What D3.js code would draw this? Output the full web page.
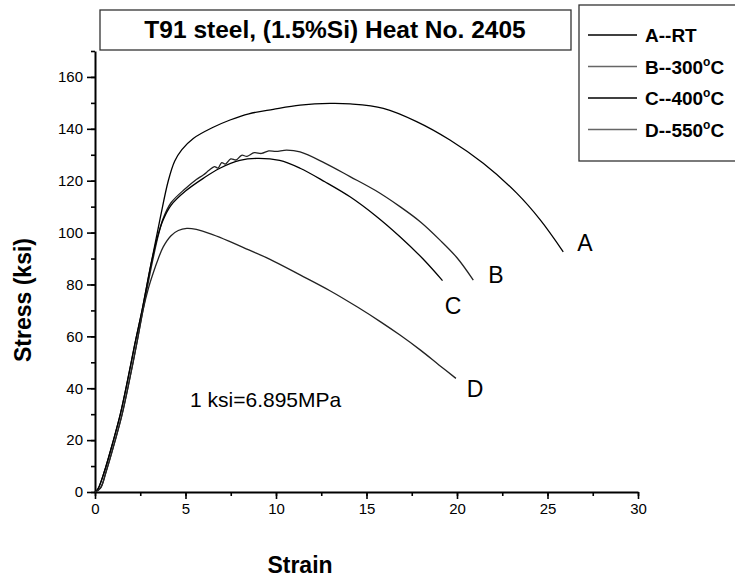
<!DOCTYPE html>
<html>
<head>
<title>T91 steel stress-strain</title>
<script src="https://cdnjs.cloudflare.com/ajax/libs/d3/7.8.5/d3.min.js"></script>
<style>
  body { margin: 0; background: #fff; }
  text { font-family: "Liberation Sans", Arial, sans-serif; fill: #000; }
</style>
</head>
<body>
<svg id="chart" width="735" height="582"></svg>
<script>
// strain (%) , stress (ksi)
var curveA = [[0,0],[0.15,1],[0.5,7.5],[1.0,19.5],[1.4,30],[1.8,43],[2.2,57],[2.6,70],[3.1,88],[3.6,105.5],[4.05,120],
  [4.4,127.5],[4.8,132],[5.43,136.3],[6.5,140.5],[7.46,143.4],[8.5,145.8],[9.85,147.5],[11.33,149.1],[12.98,149.8],
  [14.1,149.6],[15.93,147.9],[17.77,142.8],[19.61,135.7],[21.45,126.7],[23.3,115.2],[24.6,104.9],[25.87,92.6]];
var curveB = [[0,0],[0.3,1.5],[0.6,7.5],[1.1,19.5],[1.5,30],[1.9,43],[2.3,57],[2.65,70],[3.15,88],[3.5,99],[3.77,105.5],
  [4.2,111.5],[5.0,117],[5.6,120.5],[6.0,122.3],[6.3,124],[6.6,125.4],[6.8,124.9],[7.0,127],[7.2,126.4],[7.5,128.4],
  [7.8,128],[8.1,129.8],[8.4,129.4],[8.8,130.8],[9.2,130.5],[9.6,131.5],[10.0,131.3],[10.59,131.8],[11.33,131.1],
  [12.7,126.8],[14.09,121.6],[15.5,116.2],[16.85,110],[18,104],[19.06,97.1],[20.0,90.3],[20.9,81.7]];
var curveC = [[0,0],[0.15,1],[0.5,7.5],[1.0,19.5],[1.4,30],[1.8,43],[2.2,57],[2.6,70],[3.1,88],[3.5,99.5],[3.77,105],
  [4.2,110.5],[5.0,116],[6.0,121],[6.9,124.8],[8.0,127.8],[8.93,128.6],[10.2,127.8],[11.33,124.8],[12.7,119.6],
  [14.09,113.8],[15.5,106.5],[16.85,98.4],[18.1,90],[19.2,81.5]];
var curveD = [[0,0],[0.3,1.5],[0.6,7.5],[1.1,19.5],[1.5,30],[1.9,43],[2.3,57],[2.65,70],[2.95,78.5],[3.22,84.5],
  [3.5,90],[3.77,94.5],[4.2,98.8],[4.6,100.8],[5.07,101.6],[5.6,101.2],[6.5,99.2],[7.46,96.5],[8.5,93.3],[9.67,89.7],
  [11.33,83.7],[12.98,77.6],[14.5,71.3],[15.8,65.5],[16.85,60.5],[18,54.6],[19,49],[19.94,43.8]];

var seriesNames = ["A--RT", "B--300", "C--400", "D--550"];
var seriesUnits = ["", "oC", "oC", "oC"];
var seriesColors = ["#000", "#666", "#000", "#666"];
var curveLetters = ["A", "B", "C", "D"];
var letterPos = [[27.07,96],[22.15,83.7],[19.78,71.7],[21.0,39.7]];

var xTicks = [0,5,10,15,20,25,30];
var yTicks = [0,20,40,60,80,100,120,140,160];
var titleText = "T91 steel, (1.5%Si) Heat No. 2405";
var noteText = "1 ksi=6.895MPa";
var notePos = [5.25, 32.8];

var svg = d3.select("#chart");
var x = d3.scaleLinear().domain([0,30]).range([95,638]);
var y = d3.scaleLinear().domain([0,170]).range([492,51]);

// axes (minor ticks first, without their own domain line)
var xMinor = d3.axisBottom(x).tickValues(d3.range(0,30.1,2.5)).tickSize(4).tickFormat("");
var yMinor = d3.axisLeft(y).tickValues(d3.range(0,170.1,10)).tickSize(4).tickFormat("");
svg.append("g").attr("transform","translate(0,492)").call(xMinor).select(".domain").remove();
svg.append("g").attr("transform","translate(95,0)").call(yMinor).select(".domain").remove();

var xAxis = d3.axisBottom(x).tickValues(xTicks).tickSize(7).tickSizeOuter(0).tickPadding(4).tickFormat(d3.format("d"));
var yAxis = d3.axisLeft(y).tickValues(yTicks).tickSize(8).tickSizeOuter(0).tickPadding(4).tickFormat(d3.format("d"));
svg.append("g").attr("transform","translate(0,492)").call(xAxis);
svg.append("g").attr("transform","translate(95,0)").call(yAxis);

svg.selectAll(".domain").attr("stroke","#000").attr("stroke-width",2);
svg.selectAll(".tick line").attr("stroke","#000").attr("stroke-width",1.6);
svg.selectAll(".tick text").style("font-size","15px").attr("fill","#000");

// curves
var line = d3.line().x(function(d){ return x(d[0]); }).y(function(d){ return y(d[1]); })
  .curve(d3.curveCatmullRom.alpha(0.5));
[curveA, curveB, curveC, curveD].forEach(function(c, i){
  svg.append("path").attr("d", line(c)).attr("fill","none")
    .attr("stroke", i % 2 ? "#222" : "#000").attr("stroke-width", 1.3);
});

curveLetters.forEach(function(l, i){
  svg.append("text").attr("x", x(letterPos[i][0])).attr("y", y(letterPos[i][1]) + 8)
    .attr("text-anchor","middle").style("font-size","23px").text(l);
});

svg.append("text").attr("x", x(notePos[0])).attr("y", y(notePos[1]))
  .style("font-size","21px").text(noteText);

// axis titles
svg.append("text").attr("x",300).attr("y",573).attr("text-anchor","middle")
  .style("font-size","23px").style("font-weight","bold").text("Strain");
svg.append("text").attr("transform","translate(31,300) rotate(-90)").attr("text-anchor","middle")
  .style("font-size","23px").style("font-weight","bold").text("Stress (ksi)");

// title box
svg.append("rect").attr("x",100).attr("y",10).attr("width",471).attr("height",40)
  .attr("fill","none").attr("stroke","#333").attr("stroke-width",1.3);
svg.append("text").attr("x",335).attr("y",38).attr("text-anchor","middle")
  .style("font-size","24.5px").style("font-weight","bold").text(titleText);

// legend
svg.append("rect").attr("x",579).attr("y",5).attr("width",170).attr("height",156)
  .attr("fill","none").attr("stroke","#333").attr("stroke-width",1.3);
seriesNames.forEach(function(n, i){
  var ly = 35 + i * 31.5;
  svg.append("line").attr("x1",588).attr("x2",637).attr("y1",ly).attr("y2",ly)
    .attr("stroke", seriesColors[i]).attr("stroke-width",1.3);
  var t = svg.append("text").attr("x",645).attr("y",ly + 7)
    .style("font-size","19px").style("font-weight","bold").text(n);
  if (seriesUnits[i]) {
    t.append("tspan").attr("dy",-8).style("font-size","12px").text("o");
    t.append("tspan").attr("dy",8).text("C");
  }
});
</script>
</body>
</html>
